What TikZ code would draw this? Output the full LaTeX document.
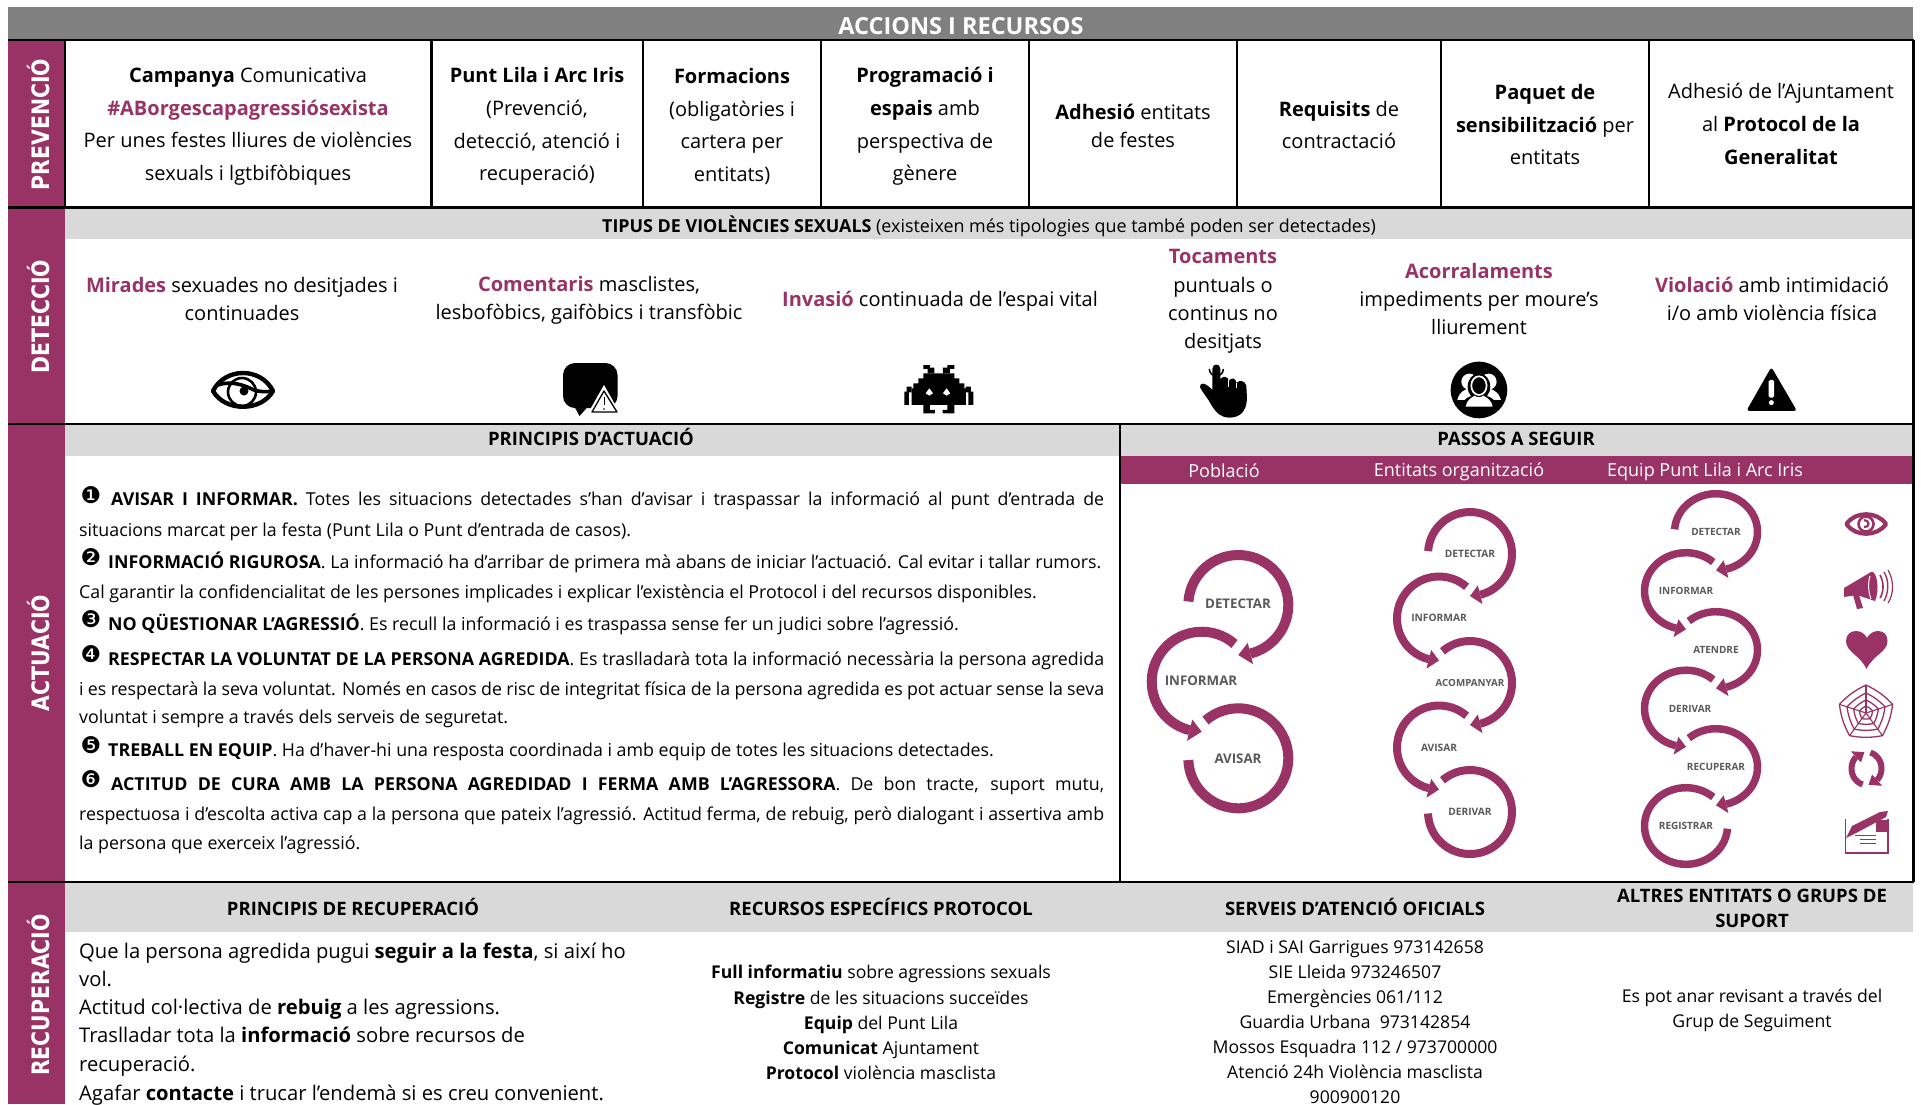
\documentclass[tikz,border=0pt]{standalone}
\usepackage{fontspec}
\setmainfont{Open Sans}
\newfontfamily\bandfam{DejaVu Sans}
\definecolor{pur}{HTML}{993366}
\definecolor{titlegray}{HTML}{808080}
\definecolor{headgray}{HTML}{D9D9D9}
\definecolor{labgray}{HTML}{595959}
\newcommand\pb[1]{\textcolor{pur}{\textbf{#1}}}
\newcommand\bandtxt[1]{\scalebox{0.85}[1]{#1}}
% arc without head: centre, radii, width, start, end
\newcommand\sparc[7]{\begin{scope}[shift={(#1,#2)},xscale=#3,yscale=#4]
  \draw[pur,line width=#5pt] (#6:1) arc[start angle=#6,end angle=#7,radius=1];
\end{scope}}
\newcommand\sparchh[7]{\begin{scope}[shift={(#1,#2)},xscale=#3,yscale=#4]
  \fill[pur] (#5:{1+#7}) -- (#5:{1-#7}) -- (#6:1) -- cycle;
\end{scope}}
\begin{document}
\begin{tikzpicture}[x=1pt,y=-1pt,
  cellt/.style={align=center,inner sep=0pt,font=\fontsize{20}{32.8}\selectfont},
  dett/.style={align=center,inner sep=0pt,font=\fontsize{20}{28.2}\selectfont},
  head/.style={align=center,inner sep=0pt,font=\fontsize{18.5}{25}\selectfont\bfseries},
  lin/.style={anchor=base west,inner sep=0pt,yshift=-6pt,font=\fontsize{17.8}{22}\selectfont},
  bullet/.style={inner sep=0pt,font=\bandfam\fontsize{23}{23}\selectfont},
  rec/.style={anchor=base west,inner sep=0pt,yshift=-7pt,font=\fontsize{20.2}{25}\selectfont},
  res/.style={align=center,inner sep=0pt,font=\fontsize{17.6}{25.1}\selectfont},
  band/.style={anchor=base,rotate=90,inner sep=0pt,text=white,font=\bandfam\fontsize{24}{24}\selectfont\bfseries},
  barl/.style={inner sep=0pt,text=white,font=\fontsize{18}{22}\selectfont},
  lab/.style={inner sep=0pt,text=labgray,font=\bfseries\fontsize{#1}{#1}\selectfont},
  rule/.style={black,line width=2.2pt}]
\useasboundingbox (0,0) rectangle (1921,1104);
% backgrounds
\fill[titlegray] (8,7) rectangle (1913,40);
\fill[pur] (8,40) rectangle (65,1104);
\fill[headgray] (65,208) rectangle (1913,239);
\fill[headgray] (65,424) rectangle (1913,456);
\fill[pur] (1120,456) rectangle (1913,484);
\fill[headgray] (65,882) rectangle (1913,932);
% rules
\draw[rule] (8,40) -- (1913.5,40);
\draw[rule] (8,207.5) -- (1913.5,207.5);
\draw[rule] (8,424) -- (1913.5,424);
\draw[rule] (8,882) -- (1913.5,882);
\draw[rule] (1913.5,40) -- (1913.5,882);
\draw[rule] (1120,424) -- (1120,882);
\foreach \xx in {65,431.5,643,821,1029,1237,1441,1649} \draw[rule] (\xx,40) -- (\xx,207.5);
% title
\node[inner sep=0pt,text=white,font=\fontsize{23.5}{25}\selectfont\bfseries] (title) at (961,26) {ACCIONS I RECURSOS};
% bands
\node[band] (bprev) at (49,124.5) {\bandtxt{PREVENCIÓ}};
\node[band] (bdet) at (49,316.5) {\bandtxt{DETECCIÓ}};
\node[band] (bact) at (49,653) {\bandtxt{ACTUACIÓ}};
\node[band] (brec) at (49,995) {\bandtxt{RECUPERACIÓ}};
% prevencio
\node[cellt] (c1) at (248,126.5) {\textbf{Campanya} Comunicativa\\\pb{\#ABorgescapagressiósexista}\\Per unes festes lliures de violències\\sexuals i lgtbifòbiques};
\node[cellt] (c2) at (537,126.5) {\textbf{Punt Lila i Arc Iris}\\(Prevenció,\\detecció, atenció i\\recuperació)};
\node[cellt] (c3) at (732,126.5) {\textbf{Formacions}\\(obligatòries i\\cartera per\\entitats)};
\node[cellt] (c4) at (925,126.5) {\textbf{Programació i}\\\textbf{espais} amb\\perspectiva de\\gènere};
\node[dett] (c5) at (1133,126) {\textbf{Adhesió} entitats\\de festes};
\node[cellt] (c6) at (1339,125) {\textbf{Requisits} de\\contractació};
\node[cellt] (c7) at (1545,124.5) {\textbf{Paquet de}\\\textbf{sensibilització} per\\entitats};
\node[cellt] (c8) at (1781,124) {Adhesió de l’Ajuntament\\al \textbf{Protocol de la}\\\textbf{Generalitat}};
% deteccio
\node[inner sep=0pt,font=\fontsize{17.9}{22}\selectfont] (tipus) at (989,226) {\textbf{TIPUS DE VIOLÈNCIES SEXUALS} (existeixen més tipologies que també poden ser detectades)};
\node[dett] (d1) at (242,299) {\pb{Mirades} sexuades no desitjades i\\continuades};
\node[dett] (d2) at (589,300) {\pb{Comentaris} masclistes,\\lesbofòbics, gaifòbics i transfòbic};
\node[dett] (d3) at (940,301) {\pb{Invasió} continuada de l’espai vital};
\node[dett] (d4) at (1223,301.5) {\pb{Tocaments}\\puntuals o\\continus no\\desitjats};
\node[dett] (d5) at (1479,299) {\pb{Acorralaments}\\impediments per moure’s\\lliurement};
\node[dett] (d6) at (1772,299) {\pb{Violació} amb intimidació\\i/o amb violència física};
% detection icons
% eye
\draw[black,line width=4.4pt,line join=round] (213,391) .. controls (225,367) and (261,367) .. (273,391) .. controls (261,412) and (225,412) .. (213,391) -- cycle;
\draw[black,line width=2.6pt] (242,392) circle (14);
\draw[black,line width=3.6pt] (218,385) .. controls (232,380) and (246,386) .. (254,390) .. controls (260,392) and (266,392) .. (273,391);
\fill[black] (244,391) circle (4.5);
% bubble
\fill[black,rounded corners=12pt] (563,363) rectangle (617.5,408);
\fill[black] (572,402) -- (579.5,416) -- (592,402) -- cycle;
\fill[white] (604,385) -- (587,415) -- (621,415) -- cycle;
\draw[black,line width=1.3pt,line join=round] (604,391) -- (592,412) -- (617,412) -- cycle;
\draw[black,line width=1pt] (604,397) -- (604,405);
\fill[black] (604,409) circle (.8);
% invader
\begin{scope}[shift={(895,355)},x=.333pt,y=-.333pt]
\fill[black] (85,30) rectangle (105,42) (98,38) rectangle (118,55) (157,30) rectangle (178,42) (144,38) rectangle (165,55);
\fill[black] (85,55) rectangle (178,72) (70,70) rectangle (193,87) (55,85) rectangle (208,102) (50,100) rectangle (213,150);
\fill[black] (85,148) rectangle (105,175) (85,165) rectangle (120,175) (157,148) rectangle (178,175) (143,165) rectangle (178,175);
\fill[black] (28,110) rectangle (42,150) (35,95) rectangle (50,112) (220,110) rectangle (235,150) (212,95) rectangle (228,112);
\fill[white] (92,115) -- (103,100) -- (114,115) -- (103,122) -- cycle (144,115) -- (155,100) -- (166,115) -- (155,122) -- cycle;
\end{scope}
% hand
\begin{scope}[shift={(895,355)},x=.333pt,y=-.333pt]
\draw[black,line width=1.5pt] (944,42) arc[start angle=180,end angle=0,radius=21];
\fill[black] (953,42) .. controls (953,24) and (977,24) .. (977,42) -- (977,72) .. controls (985,62) and (1000,64) .. (1003,78) .. controls (1010,66) and (1022,68) .. (1026,84) .. controls (1034,74) and (1050,76) .. (1055,92) -- (1057,130) .. controls (1056,170) and (1035,188) .. (1005,188) .. controls (980,188) and (965,175) .. (950,150) .. controls (940,130) and (925,115) .. (916,97) .. controls (915,82) and (930,80) .. (953,105) -- cycle;
\draw[white,line width=.9pt] (1002,76) -- (1002,97) (1026,84) -- (1026,100);
\end{scope}
% group
\begin{scope}[shift={(1440,355)},x=.333pt,y=-.333pt]
\fill[black] (117,105) circle (85);
\fill[white] (88,80) circle (24) (146,80) circle (24);
\fill[white] (52,135) .. controls (58,112) and (70,105) .. (88,100) -- (145,100) .. controls (165,105) and (178,115) .. (183,135) -- (117,135) -- cycle;
\fill[black] (117,95) ellipse (34 and 40);
\fill[black] (66,160) .. controls (68,130) and (85,122) .. (117,120) .. controls (150,122) and (168,130) .. (170,160) -- cycle;
\draw[white,line width=1.7pt] (117,92) ellipse (23 and 28);
\fill[white] (77,155) .. controls (80,135) and (95,128) .. (104,122) .. controls (110,128) and (124,128) .. (130,122) .. controls (140,128) and (155,135) .. (158,155) -- cycle;
\end{scope}
% warning
\begin{scope}[shift={(1440,355)},x=.333pt,y=-.333pt]
\fill[black,rounded corners=3pt] (995,36) -- (920,168) -- (1072,168) -- cycle;
\fill[white,rounded corners=1.5pt] (987,75) rectangle (1003,128);
\fill[white] (995,143) circle (7.5);
\end{scope}
% actuacio
\node[head] (hprin) at (591,437) {PRINCIPIS D’ACTUACIÓ};
\node[head] (hpass) at (1516,438.5) {PASSOS A SEGUIR};
\node[bullet] (n1) at (91,495) {❶};
\node[lin] (l1) at (111,499) {\hbox to 993pt{\textbf{AVISAR I INFORMAR.} Totes les situacions detectades s’han d’avisar i traspassar la informació al punt d’entrada de}};
\node[lin] (l2) at (79,530) {situacions marcat per la festa (Punt Lila o Punt d’entrada de casos).};
\node[bullet] (n2) at (91,557) {❷};
\node[lin] (l3) at (108,562) {\textbf{INFORMACIÓ RIGUROSA}. La informació ha d’arribar de primera mà abans de iniciar l’actuació. Cal evitar i tallar rumors.};
\node[lin] (l4) at (79,592) {Cal garantir la confidencialitat de les persones implicades i explicar l’existència el Protocol i del recursos disponibles.};
\node[bullet] (n3) at (91,619) {❸};
\node[lin] (l5) at (108,624) {\textbf{NO QÜESTIONAR L’AGRESSIÓ}. Es recull la informació i es traspassa sense fer un judici sobre l’agressió.};
\node[bullet] (n4) at (91,654) {❹};
\node[lin] (l6) at (108,659) {\hbox to 996pt{\textbf{RESPECTAR LA VOLUNTAT DE LA PERSONA AGREDIDA}. Es traslladarà tota la informació necessària la persona agredida}};
\node[lin] (l7) at (79,689) {\hbox to 1025pt{i es respectarà la seva voluntat. Només en casos de risc de integritat física de la persona agredida es pot actuar sense la seva}};
\node[lin] (l8) at (79,717) {voluntat i sempre a través dels serveis de seguretat.};
\node[bullet] (n5) at (91,745) {❺};
\node[lin] (l9) at (108,750) {\textbf{TREBALL EN EQUIP}. Ha d’haver-hi una resposta coordinada i amb equip de totes les situacions detectades.};
\node[bullet] (n6) at (91,779) {❻};
\node[lin] (l10) at (111,784) {\hbox to 993pt{\textbf{ACTITUD DE CURA AMB LA PERSONA AGREDIDAD I FERMA AMB L’AGRESSORA}. De bon tracte, suport mutu,}};
\node[lin] (l11) at (79,814) {\hbox to 1025pt{respectuosa i d’escolta activa cap a la persona que pateix l’agressió. Actitud ferma, de rebuig, però dialogant i assertiva amb}};
\node[lin] (l12) at (79,843) {la persona que exerceix l’agressió.};
% passos bar
\node[barl] (p1) at (1224,471) {Població};
\node[barl] (p2) at (1459,471.5) {Entitats organització};
\node[barl] (p3) at (1705,471.5) {Equip Punt Lila i Arc Iris};
% poblacio spiral
\sparc{1238.3}{605}{50}{-50}{10}{176}{-76}
\sparchh{1238.3}{605}{50}{-50}{-76}{-90}{.22}
\sparc{1201.7}{681.7}{50}{-50}{10}{49}{256}
\sparchh{1201.7}{681.7}{50}{-50}{256}{270}{.22}
\sparc{1238.3}{758.3}{50}{-50}{10}{131}{-178}
\node[lab=13.3] (s1) at (1238,604) {DETECTAR};
\node[lab=13.3] (s2) at (1201,681) {INFORMAR};
\node[lab=13.3] (s3) at (1238,759) {AVISAR};
% entitats spiral
\sparc{1470}{554}{42}{-42}{8}{176}{-76}
\sparchh{1470}{554}{42}{-42}{-76}{-90}{.23}
\sparc{1439}{618.5}{42}{-42}{8}{49}{256}
\sparchh{1439}{618.5}{42}{-42}{256}{270}{.23}
\sparc{1470}{683}{42}{-42}{8}{131}{-76}
\sparchh{1470}{683}{42}{-42}{-76}{-90}{.23}
\sparc{1439}{747.5}{42}{-42}{8}{49}{256}
\sparchh{1439}{747.5}{42}{-42}{256}{270}{.23}
\sparc{1470}{812}{42}{-42}{8}{131}{-178}
\node[lab=10.2] (e1) at (1470,554) {DETECTAR};
\node[lab=10.2] (e2) at (1439,618) {INFORMAR};
\node[lab=9.8] (e3) at (1470,683) {ACOMPANYAR};
\node[lab=10.2] (e4) at (1439,748) {AVISAR};
\node[lab=10.2] (e5) at (1470,812) {DERIVAR};
% equip spiral
\sparc{1716}{532}{41.5}{-38.3}{7.5}{176}{-76}
\sparchh{1716}{532}{41.5}{-38.3}{-76}{-90}{.24}
\sparc{1686}{591}{41.5}{-38.3}{7.5}{49}{256}
\sparchh{1686}{591}{41.5}{-38.3}{256}{270}{.24}
\sparc{1716}{650}{41.5}{-38.3}{7.5}{131}{-76}
\sparchh{1716}{650}{41.5}{-38.3}{-76}{-90}{.24}
\sparc{1686}{708.5}{41.5}{-38.3}{7.5}{49}{256}
\sparchh{1686}{708.5}{41.5}{-38.3}{256}{270}{.24}
\sparc{1716}{767}{41.5}{-38.3}{7.5}{131}{-76}
\sparchh{1716}{767}{41.5}{-38.3}{-76}{-90}{.24}
\sparc{1686}{826}{41.5}{-38.3}{7.5}{49}{356}
\node[lab=10] (q1) at (1716,532) {DETECTAR};
\node[lab=10] (q2) at (1686,591) {INFORMAR};
\node[lab=10] (q3) at (1716,650) {ATENDRE};
\node[lab=10] (q4) at (1690,709) {DERIVAR};
\node[lab=10] (q5) at (1716,767) {RECUPERAR};
\node[lab=10] (q6) at (1686,826) {REGISTRAR};
% side icons
\draw[pur,line width=4.2pt,line join=round] (1846.5,524) .. controls (1855,511) and (1877,511) .. (1886,524) .. controls (1877,537) and (1855,537) .. (1846.5,524) -- cycle;
\draw[pur,line width=2.6pt] (1866,524) circle (7.5);
\draw[pur,line width=2.2pt] (1864,520) .. controls (1870,520) and (1870,528) .. (1864,527);
% megaphone
\fill[pur] (1844,588) -- (1871,572) .. controls (1877,570) and (1880,590) .. (1875,601) -- (1857,595) -- (1844,597) -- cycle;
\draw[white,line width=1pt] (1870,576) .. controls (1868,582) and (1868,592) .. (1871,599);
\fill[pur] (1853,595) -- (1859,595) -- (1863,608) -- (1857,609) -- cycle;
\draw[pur,line width=1.6pt] (1880,575) .. controls (1884,582) and (1884,592) .. (1880,598);
\draw[pur,line width=1.4pt] (1884,572) .. controls (1889,580) and (1889,592) .. (1884,601);
\draw[pur,line width=1.2pt] (1888,570) .. controls (1894,580) and (1894,594) .. (1888,603);
% heart
\fill[pur] (1866.5,669) .. controls (1860,655) and (1846,652) .. (1846,641) .. controls (1846,634) and (1851,631) .. (1856,631) .. controls (1861,631) and (1865,634) .. (1867,638) .. controls (1869,634) and (1873,631) .. (1878,631) .. controls (1884,631) and (1887.5,635) .. (1887.5,641) .. controls (1887.5,652) and (1873,655) .. (1866.5,669) -- cycle;
% web
\begin{scope}[shift={(1866,713)},x=1pt,y=1pt]
\foreach \aa in {90,162,234,306,18} \draw[pur,line width=1.1pt] (0,0) -- (\aa:28);
\foreach \rr in {7,13,20,28} \draw[pur,line width=1.3pt,line join=round] (90:\rr) to[bend right=10] (162:\rr) to[bend right=10] (234:\rr) to[bend right=10] (306:\rr) to[bend right=10] (18:\rr) to[bend right=10] (90:\rr);
\end{scope}
% sync
\sparc{1866.5}{768.5}{15}{-16.5}{6}{255}{135}
\sparchh{1866.5}{768.5}{15}{-16.5}{135}{98}{.48}
\sparc{1866.5}{768.5}{15}{-16.5}{6}{75}{-45}
\sparchh{1866.5}{768.5}{15}{-16.5}{-45}{-82}{.48}
% note
\draw[pur,line width=1.2pt] (1845.5,819.5) rectangle (1888,853);
\fill[white] (1846,819) -- (1890,809) -- (1890,818) -- (1846,838) -- cycle;
\fill[pur] (1846,838) -- (1852,826) -- (1880,812) -- (1888,811) -- (1886,817) -- (1858,832) -- cycle;
\fill[pur] (1876,820) rectangle (1888,832);
\draw[pur,line width=1.4pt] (1855,835.5) -- (1876,835.5) (1860,839.5) -- (1876,839.5) (1860,843.5) -- (1876,843.5);
% recuperacio
\node[head] (r1) at (353,907) {PRINCIPIS DE RECUPERACIÓ};
\node[head] (r2) at (881,907) {RECURSOS ESPECÍFICS PROTOCOL};
\node[head] (r3) at (1355,907) {SERVEIS D’ATENCIÓ OFICIALS};
\node[head] (r4) at (1752,908.5) {ALTRES ENTITATS O GRUPS DE\\SUPORT};
\node[rec] (t1) at (79,951) {Que la persona agredida pugui \textbf{seguir a la festa}, si així ho};
\node[rec] (t2) at (79,979) {vol.};
\node[rec] (t3) at (79,1007) {Actitud col·lectiva de \textbf{rebuig} a les agressions.};
\node[rec] (t4) at (79,1035) {Traslladar tota la \textbf{informació} sobre recursos de};
\node[rec] (t5) at (79,1064) {recuperació.};
\node[rec] (t6) at (79,1093) {Agafar \textbf{contacte} i trucar l’endemà si es creu convenient.};
\node[res] (u1) at (881,1022.5) {\textbf{Full informatiu} sobre agressions sexuals\\\textbf{Registre} de les situacions succeïdes\\\textbf{Equip} del Punt Lila\\\textbf{Comunicat} Ajuntament\\\textbf{Protocol} violència masclista};
\node[res] (u2) at (1355,1022) {SIAD i SAI Garrigues 973142658\\SIE Lleida 973246507\\Emergències 061/112\\Guardia Urbana\ \ 973142854\\Mossos Esquadra 112 / 973700000\\Atenció 24h Violència masclista\\900900120};
\node[res] (u3) at (1752,1010) {Es pot anar revisant a través del\\Grup de Seguiment};
\end{tikzpicture}
\end{document}
